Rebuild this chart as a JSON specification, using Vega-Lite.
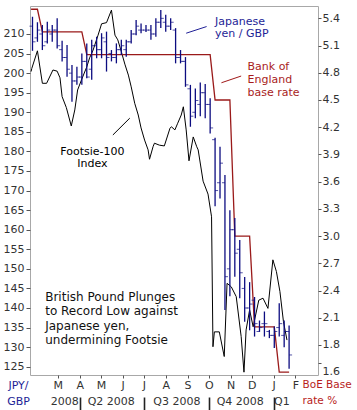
{
  "$schema": "https://vega.github.io/schema/vega-lite/v6.json",
  "width": 288,
  "height": 369,
  "autosize": {"type": "none"},
  "padding": {"left": 30, "top": 6, "right": 39, "bottom": 35},
  "background": "white",
  "config": {
    "view": {"stroke": "#a8a8a8", "strokeWidth": 1},
    "font": "DejaVu Sans",
    "axis": {"labelFont": "DejaVu Sans", "labelFontSize": 11, "labelColor": "#333333", "titleFont": "DejaVu Sans", "titleFontWeight": "normal", "domain": false, "grid": false, "tickColor": "#555555"}
  },
  "datasets": {
    "jpy": [
      {"date": "2008-01-25", "open": 212, "high": 214.4, "low": 205.7, "close": 208},
      {"date": "2008-02-01", "open": 209, "high": 213, "low": 208, "close": 211},
      {"date": "2008-02-08", "open": 210, "high": 212.3, "low": 205.9, "close": 207},
      {"date": "2008-02-15", "open": 208, "high": 213.1, "low": 207.6, "close": 211},
      {"date": "2008-02-22", "open": 210, "high": 212.3, "low": 208, "close": 211},
      {"date": "2008-02-29", "open": 211, "high": 214, "low": 206.3, "close": 207},
      {"date": "2008-03-07", "open": 206, "high": 208.3, "low": 203, "close": 204},
      {"date": "2008-03-14", "open": 204, "high": 207.2, "low": 199.1, "close": 201},
      {"date": "2008-03-21", "open": 200, "high": 202.1, "low": 192.7, "close": 198},
      {"date": "2008-03-28", "open": 198, "high": 201.6, "low": 197, "close": 199},
      {"date": "2008-04-04", "open": 199, "high": 205, "low": 197, "close": 203},
      {"date": "2008-04-11", "open": 203, "high": 207.6, "low": 198.7, "close": 199},
      {"date": "2008-04-18", "open": 201, "high": 208.5, "low": 198.3, "close": 207},
      {"date": "2008-04-25", "open": 207, "high": 209.3, "low": 203.8, "close": 206},
      {"date": "2008-05-02", "open": 206, "high": 210.2, "low": 203.8, "close": 209},
      {"date": "2008-05-09", "open": 208, "high": 210.6, "low": 200.4, "close": 204},
      {"date": "2008-05-16", "open": 205, "high": 205.9, "low": 203, "close": 204},
      {"date": "2008-05-23", "open": 204, "high": 207.6, "low": 202.5, "close": 206},
      {"date": "2008-05-30", "open": 206, "high": 208.5, "low": 204.6, "close": 207},
      {"date": "2008-06-06", "open": 206, "high": 208.5, "low": 204.2, "close": 208},
      {"date": "2008-06-13", "open": 208, "high": 211, "low": 207.6, "close": 210},
      {"date": "2008-06-20", "open": 210, "high": 213.6, "low": 209.7, "close": 212},
      {"date": "2008-06-27", "open": 211, "high": 212.7, "low": 210.2, "close": 211},
      {"date": "2008-07-04", "open": 211, "high": 212.3, "low": 210.5, "close": 211},
      {"date": "2008-07-11", "open": 211, "high": 212.3, "low": 208.5, "close": 210},
      {"date": "2008-07-18", "open": 210, "high": 214, "low": 209.3, "close": 213},
      {"date": "2008-07-25", "open": 213, "high": 216.1, "low": 211.5, "close": 214},
      {"date": "2008-08-01", "open": 213, "high": 214.9, "low": 210.6, "close": 212},
      {"date": "2008-08-08", "open": 212, "high": 214, "low": 211, "close": 213},
      {"date": "2008-08-15", "open": 211, "high": 211.5, "low": 202.5, "close": 204},
      {"date": "2008-08-22", "open": 204, "high": 205.9, "low": 202.5, "close": 203},
      {"date": "2008-08-29", "open": 203, "high": 204.1, "low": 196.5, "close": 197},
      {"date": "2008-09-05", "open": 196, "high": 197, "low": 186.3, "close": 189},
      {"date": "2008-09-12", "open": 190, "high": 196.1, "low": 188.5, "close": 193},
      {"date": "2008-09-19", "open": 192, "high": 197.6, "low": 189, "close": 195},
      {"date": "2008-09-26", "open": 195, "high": 197.2, "low": 188.5, "close": 192},
      {"date": "2008-10-03", "open": 192, "high": 193.6, "low": 184.6, "close": 186},
      {"date": "2008-10-10", "open": 183, "high": 183.5, "low": 166, "close": 170},
      {"date": "2008-10-17", "open": 172, "high": 181.2, "low": 168, "close": 177},
      {"date": "2008-10-24", "open": 172, "high": 174, "low": 139.5, "close": 148},
      {"date": "2008-10-31", "open": 150, "high": 165, "low": 143, "close": 160},
      {"date": "2008-11-07", "open": 160, "high": 163, "low": 148, "close": 154},
      {"date": "2008-11-14", "open": 155, "high": 157.4, "low": 142.5, "close": 149},
      {"date": "2008-11-21", "open": 145, "high": 147.9, "low": 136.5, "close": 140},
      {"date": "2008-11-28", "open": 140, "high": 146.6, "low": 134.3, "close": 141},
      {"date": "2008-12-05", "open": 142, "high": 142.8, "low": 132.7, "close": 136},
      {"date": "2008-12-12", "open": 134, "high": 136.8, "low": 133.9, "close": 135},
      {"date": "2008-12-19", "open": 136, "high": 139.1, "low": 132.7, "close": 136},
      {"date": "2008-12-26", "open": 134, "high": 134.4, "low": 132.3, "close": 133},
      {"date": "2009-01-02", "open": 133, "high": 135.3, "low": 129.8, "close": 134},
      {"date": "2009-01-09", "open": 135, "high": 141.2, "low": 132.7, "close": 136},
      {"date": "2009-01-16", "open": 133, "high": 136.8, "low": 130, "close": 134},
      {"date": "2009-01-23", "open": 134, "high": 135.5, "low": 124.5, "close": 128}
    ],
    "ftse": [
      {"date": "2008-01-23", "value": 200.4},
      {"date": "2008-01-24", "value": 201.2},
      {"date": "2008-02-01", "value": 205.7},
      {"date": "2008-02-08", "value": 197.4},
      {"date": "2008-02-14", "value": 197.4},
      {"date": "2008-02-23", "value": 200.8},
      {"date": "2008-02-29", "value": 200.5},
      {"date": "2008-03-04", "value": 198.8},
      {"date": "2008-03-07", "value": 194.0},
      {"date": "2008-03-13", "value": 191.2},
      {"date": "2008-03-20", "value": 186.5},
      {"date": "2008-03-25", "value": 190.6},
      {"date": "2008-03-29", "value": 195.7},
      {"date": "2008-04-04", "value": 198.5},
      {"date": "2008-04-11", "value": 201.6},
      {"date": "2008-04-15", "value": 203.9},
      {"date": "2008-04-20", "value": 205.9},
      {"date": "2008-04-27", "value": 209.7},
      {"date": "2008-05-02", "value": 212.6},
      {"date": "2008-05-09", "value": 212.9},
      {"date": "2008-05-16", "value": 216.1},
      {"date": "2008-05-21", "value": 209.7},
      {"date": "2008-05-25", "value": 208.5},
      {"date": "2008-05-30", "value": 205.5},
      {"date": "2008-06-04", "value": 202.3},
      {"date": "2008-06-09", "value": 199.5},
      {"date": "2008-06-13", "value": 196.5},
      {"date": "2008-06-18", "value": 192.3},
      {"date": "2008-06-23", "value": 189.3},
      {"date": "2008-06-27", "value": 186.0},
      {"date": "2008-07-02", "value": 182.9},
      {"date": "2008-07-07", "value": 180.4},
      {"date": "2008-07-09", "value": 178.0},
      {"date": "2008-07-14", "value": 181.2},
      {"date": "2008-07-16", "value": 182.1},
      {"date": "2008-07-23", "value": 181.6},
      {"date": "2008-07-30", "value": 181.4},
      {"date": "2008-08-07", "value": 185.9},
      {"date": "2008-08-09", "value": 186.3},
      {"date": "2008-08-14", "value": 185.5},
      {"date": "2008-08-18", "value": 187.2},
      {"date": "2008-08-23", "value": 189.3},
      {"date": "2008-08-26", "value": 191.4},
      {"date": "2008-08-30", "value": 185.5},
      {"date": "2008-09-03", "value": 177.6},
      {"date": "2008-09-09", "value": 183.7},
      {"date": "2008-09-14", "value": 181.2},
      {"date": "2008-09-16", "value": 180.4},
      {"date": "2008-09-23", "value": 172.4},
      {"date": "2008-09-30", "value": 169.1},
      {"date": "2008-10-05", "value": 163.3},
      {"date": "2008-10-07", "value": 130.1},
      {"date": "2008-10-09", "value": 133.9},
      {"date": "2008-10-16", "value": 133.9},
      {"date": "2008-10-23", "value": 127.6},
      {"date": "2008-10-27", "value": 146.3},
      {"date": "2008-11-02", "value": 145.4},
      {"date": "2008-11-09", "value": 142.9},
      {"date": "2008-11-16", "value": 132.7},
      {"date": "2008-11-20", "value": 123.6},
      {"date": "2008-11-23", "value": 134.4},
      {"date": "2008-11-28", "value": 139.5},
      {"date": "2008-12-03", "value": 135.2},
      {"date": "2008-12-11", "value": 142.0},
      {"date": "2008-12-17", "value": 142.5},
      {"date": "2008-12-24", "value": 139.9},
      {"date": "2008-12-31", "value": 152.3},
      {"date": "2009-01-05", "value": 149.3},
      {"date": "2009-01-10", "value": 144.2},
      {"date": "2009-01-15", "value": 136.5},
      {"date": "2009-01-20", "value": 131.8}
    ],
    "boe": [
      {"date": "2008-01-23", "rate": 5.5},
      {"date": "2008-02-01", "rate": 5.5},
      {"date": "2008-02-08", "rate": 5.25},
      {"date": "2008-04-04", "rate": 5.25},
      {"date": "2008-04-11", "rate": 5.0},
      {"date": "2008-10-03", "rate": 5.0},
      {"date": "2008-10-10", "rate": 4.5},
      {"date": "2008-10-31", "rate": 4.5},
      {"date": "2008-11-07", "rate": 3.0},
      {"date": "2008-11-28", "rate": 3.0},
      {"date": "2008-12-05", "rate": 2.0},
      {"date": "2009-01-02", "rate": 2.0},
      {"date": "2009-01-09", "rate": 1.5},
      {"date": "2009-01-23", "rate": 1.5}
    ]
  },
  "layer": [
    {
      "data": {"name": "ftse"},
      "mark": {"type": "line", "color": "#000000", "strokeWidth": 1},
      "encoding": {
        "x": {"field": "date", "type": "temporal", "scale": {"domain": [{"year": 2008, "month": 1, "date": 21, "hours": 11, "utc": true}, {"year": 2009, "month": 3, "date": 5, "utc": true}]}, "axis": null},
        "y": {"field": "value", "type": "quantitative", "scale": {"domain": [122.88, 217.15], "zero": false, "nice": false}, "axis": null}
      }
    },
    {
      "data": {"name": "boe"},
      "mark": {"type": "line", "color": "#9a1a1a", "strokeWidth": 1.3},
      "encoding": {
        "x": {"field": "date", "type": "temporal", "scale": {"domain": [{"year": 2008, "month": 1, "date": 21, "hours": 11, "utc": true}, {"year": 2009, "month": 3, "date": 5, "utc": true}]},
          "axis": {"orient": "bottom", "title": null, "offset": 20, "ticks": false, "tickSize": 0, "labelPadding": 0, "labelFlush": false, "labelOverlap": false, "labelColor": "#333333",
            "values": [{"year": 2008, "month": 3, "date": 10, "utc": true}, {"year": 2008, "month": 5, "date": 15, "utc": true}, {"year": 2008, "month": 8, "date": 16, "utc": true}, {"year": 2008, "month": 11, "date": 14, "utc": true}, {"year": 2009, "month": 1, "date": 12, "utc": true}],
            "labelExpr": "utcmonth(datum.value) == 2 ? '2008' : utcmonth(datum.value) == 4 ? 'Q2 2008' : utcmonth(datum.value) == 7 ? 'Q3 2008' : utcmonth(datum.value) == 10 ? 'Q4 2008' : 'Q1'"}},
        "y": {"field": "rate", "type": "quantitative", "scale": {"domain": [1.469, 5.536], "zero": false, "nice": false},
          "axis": {"orient": "right", "values": [1.6, 1.8, 2.1, 2.4, 2.7, 3, 3.3, 3.6, 3.9, 4.2, 4.5, 4.8, 5.1, 5.4], "tickSize": 3, "labelPadding": 1,
            "labelOffset": {"condition": {"test": "datum.value < 1.7", "value": 8}, "value": 0},
            "title": ["BoE Base", "rate %"], "titleAngle": 0, "titleX": -16, "titleY": 373, "titleAlign": "left", "titleBaseline": "top", "titleColor": "#b81c1c", "titleFontSize": 10.5, "titleLineHeight": 16}}
      }
    },
    {
      "data": {"name": "jpy"},
      "mark": {"type": "rule", "color": "#0c0c80", "strokeWidth": 1.3},
      "encoding": {
        "x": {"field": "date", "type": "temporal", "scale": {"domain": [{"year": 2008, "month": 1, "date": 21, "hours": 11, "utc": true}, {"year": 2009, "month": 3, "date": 5, "utc": true}]},
          "axis": {"orient": "bottom", "title": null, "values": [
            {"year": 2008, "month": 3, "date": 1, "utc": true}, {"year": 2008, "month": 4, "date": 1, "utc": true}, {"year": 2008, "month": 5, "date": 1, "utc": true}, {"year": 2008, "month": 6, "date": 1, "utc": true}, {"year": 2008, "month": 7, "date": 1, "utc": true}, {"year": 2008, "month": 8, "date": 1, "utc": true}, {"year": 2008, "month": 9, "date": 1, "utc": true}, {"year": 2008, "month": 10, "date": 1, "utc": true}, {"year": 2008, "month": 11, "date": 1, "utc": true}, {"year": 2008, "month": 12, "date": 1, "utc": true}, {"year": 2009, "month": 1, "date": 1, "utc": true}, {"year": 2009, "month": 2, "date": 1, "utc": true}],
            "labelExpr": "substring(utcFormat(datum.value, '%b'), 0, 1)", "tickSize": 3, "labelPadding": 1, "labelFlush": false, "labelOverlap": false, "labelColor": "#333333"}},
        "y": {"field": "low", "type": "quantitative", "scale": {"domain": [122.88, 217.15], "zero": false, "nice": false},
          "axis": {"orient": "left", "values": [125, 130, 135, 140, 145, 150, 155, 160, 165, 170, 175, 180, 185, 190, 195, 200, 205, 210], "tickSize": 4, "labelPadding": 2,
            "title": ["JPY/", "GBP"], "titleAngle": 0, "titleX": -12, "titleY": 373, "titleAlign": "center", "titleBaseline": "top", "titleColor": "#1e1e96", "titleFontSize": 11, "titleLineHeight": 16}},
        "y2": {"field": "high"}
      }
    },
    {
      "data": {"name": "jpy"},
      "mark": {"type": "tick", "orient": "horizontal", "color": "#0c0c80", "size": 3, "thickness": 1, "xOffset": -1.5},
      "encoding": {
        "x": {"field": "date", "type": "temporal", "scale": {"domain": [{"year": 2008, "month": 1, "date": 21, "hours": 11, "utc": true}, {"year": 2009, "month": 3, "date": 5, "utc": true}]}, "axis": null},
        "y": {"field": "open", "type": "quantitative", "scale": {"domain": [122.88, 217.15], "zero": false, "nice": false}, "axis": null}
      }
    },
    {
      "data": {"name": "jpy"},
      "mark": {"type": "tick", "orient": "horizontal", "color": "#0c0c80", "size": 3, "thickness": 1, "xOffset": 1.5},
      "encoding": {
        "x": {"field": "date", "type": "temporal", "scale": {"domain": [{"year": 2008, "month": 1, "date": 21, "hours": 11, "utc": true}, {"year": 2009, "month": 3, "date": 5, "utc": true}]}, "axis": null},
        "y": {"field": "close", "type": "quantitative", "scale": {"domain": [122.88, 217.15], "zero": false, "nice": false}, "axis": null}
      }
    },
    {
      "data": {"values": [
        {"x1": "2008-08-30", "x2": "2008-09-28", "y1": 210.2, "y2": 211.9, "c": "yen"},
        {"x1": "2008-05-18", "x2": "2008-06-11", "y1": 184.2, "y2": 188.5, "c": "ftse"}
      ]},
      "mark": {"type": "rule", "strokeWidth": 1},
      "encoding": {
        "x": {"field": "x1", "type": "temporal", "scale": {"domain": [{"year": 2008, "month": 1, "date": 21, "hours": 11, "utc": true}, {"year": 2009, "month": 3, "date": 5, "utc": true}]}, "axis": null},
        "x2": {"field": "x2"},
        "y": {"field": "y1", "type": "quantitative", "scale": {"domain": [122.88, 217.15], "zero": false, "nice": false}, "axis": null},
        "y2": {"field": "y2"},
        "color": {"field": "c", "type": "nominal", "scale": {"domain": ["yen", "ftse"], "range": ["#1e1e96", "#000000"]}, "legend": null}
      }
    },
    {
      "data": {"values": [
        {"date": "2008-10-10", "value": 214.6, "label": "Japanese\nyen / GBP"}
      ]},
      "mark": {"type": "text", "align": "left", "baseline": "top", "lineBreak": "\n", "fontSize": 11, "lineHeight": 12, "font": "DejaVu Sans", "color": "#1e1e96"},
      "encoding": {
        "x": {"field": "date", "type": "temporal", "scale": {"domain": [{"year": 2008, "month": 1, "date": 21, "hours": 11, "utc": true}, {"year": 2009, "month": 3, "date": 5, "utc": true}]}, "axis": null},
        "y": {"field": "value", "type": "quantitative", "scale": {"domain": [122.88, 217.15], "zero": false, "nice": false}, "axis": null},
        "text": {"field": "label"}
      }
    },
    {
      "data": {"values": [
        {"date": "2008-04-19", "value": 181.35, "label": "Footsie-100\nIndex"}
      ]},
      "mark": {"type": "text", "align": "center", "baseline": "top", "lineBreak": "\n", "fontSize": 11, "lineHeight": 12, "font": "DejaVu Sans", "color": "#000000"},
      "encoding": {
        "x": {"field": "date", "type": "temporal", "scale": {"domain": [{"year": 2008, "month": 1, "date": 21, "hours": 11, "utc": true}, {"year": 2009, "month": 3, "date": 5, "utc": true}]}, "axis": null},
        "y": {"field": "value", "type": "quantitative", "scale": {"domain": [122.88, 217.15], "zero": false, "nice": false}, "axis": null},
        "text": {"field": "label"}
      }
    },
    {
      "data": {"values": [
        {"date": "2008-02-12", "value": 144.1, "label": "British Pound Plunges\nto Record Low against\nJapanese yen,\nundermining Footsie"}
      ]},
      "mark": {"type": "text", "align": "left", "baseline": "top", "lineBreak": "\n", "fontSize": 12, "lineHeight": 14.3, "font": "DejaVu Sans", "color": "#111111"},
      "encoding": {
        "x": {"field": "date", "type": "temporal", "scale": {"domain": [{"year": 2008, "month": 1, "date": 21, "hours": 11, "utc": true}, {"year": 2009, "month": 3, "date": 5, "utc": true}]}, "axis": null},
        "y": {"field": "value", "type": "quantitative", "scale": {"domain": [122.88, 217.15], "zero": false, "nice": false}, "axis": null},
        "text": {"field": "label"}
      }
    },
    {
      "data": {"values": [
        {"x1": "2008-10-19", "x2": "2008-11-16", "y1": 4.69, "y2": 4.764}
      ]},
      "mark": {"type": "rule", "strokeWidth": 1, "color": "#a01818"},
      "encoding": {
        "x": {"field": "x1", "type": "temporal", "scale": {"domain": [{"year": 2008, "month": 1, "date": 21, "hours": 11, "utc": true}, {"year": 2009, "month": 3, "date": 5, "utc": true}]},
          "axis": {"orient": "bottom", "title": null, "offset": 22, "labels": false, "ticks": true, "tickSize": 13, "tickWidth": 1.6, "tickColor": "#222222",
            "values": [{"year": 2008, "month": 4, "date": 1, "utc": true}, {"year": 2008, "month": 7, "date": 1, "utc": true}, {"year": 2008, "month": 10, "date": 1, "utc": true}, {"year": 2009, "month": 1, "date": 1, "utc": true}]}},
        "x2": {"field": "x2"},
        "y": {"field": "y1", "type": "quantitative", "scale": {"domain": [1.469, 5.536], "zero": false, "nice": false}, "axis": null},
        "y2": {"field": "y2"}
      }
    },
    {
      "data": {"values": [
        {"date": "2008-11-25", "rate": 4.93, "label": "Bank of\nEngland\nbase rate"}
      ]},
      "mark": {"type": "text", "align": "left", "baseline": "top", "lineBreak": "\n", "fontSize": 11, "lineHeight": 13, "font": "DejaVu Sans", "color": "#a81c1c"},
      "encoding": {
        "x": {"field": "date", "type": "temporal", "scale": {"domain": [{"year": 2008, "month": 1, "date": 21, "hours": 11, "utc": true}, {"year": 2009, "month": 3, "date": 5, "utc": true}]}, "axis": null},
        "y": {"field": "rate", "type": "quantitative", "scale": {"domain": [1.469, 5.536], "zero": false, "nice": false}, "axis": null},
        "text": {"field": "label"}
      }
    }
  ],
  "resolve": {"scale": {"y": "independent"}, "axis": {"x": "independent", "y": "independent"}}
}
